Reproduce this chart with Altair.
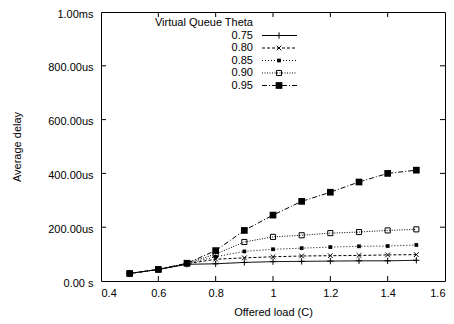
import altair as alt
import pandas as pd

loads = [0.5, 0.6, 0.7, 0.8, 0.9, 1.0, 1.1, 1.2, 1.3, 1.4, 1.5]
thetas = ["0.75", "0.80", "0.85", "0.90", "0.95"]
d075 = [28, 43, 62, 64, 69, 72, 73, 74, 75, 75, 77]
d080 = [28, 43, 64, 81, 86, 90, 93, 94, 95, 97, 98]
d085 = [28, 43, 65, 90, 110, 118, 122, 126, 129, 130, 134]
d090 = [28, 43, 66, 100, 145, 164, 170, 178, 182, 188, 192]
d095 = [28, 43, 66, 113, 188, 245, 296, 330, 368, 400, 412]
series = [d075, d080, d085, d090, d095]

x_ticks = [0.4, 0.6, 0.8, 1.0, 1.2, 1.4, 1.6]
y_ticks = [0, 200, 400, 600, 800, 1000]

FONT = "Liberation Sans"
W, H = 344, 269

styles = {
    "0.75": dict(dash=[1, 0], shape="M-1,0L1,0M0,-1L0,1", size=40, filled=False),
    "0.80": dict(dash=[3, 2], shape="M-1,-1L1,1M-1,1L1,-1", size=22, filled=False),
    "0.85": dict(dash=[1, 2], shape="square", size=14, filled=True),
    "0.90": dict(dash=[1, 1.5], shape="square", size=26, filled=False),
    "0.95": dict(dash=[5, 2, 1, 2], shape="square", size=45, filled=True),
}

xs = alt.Scale(domain=[0.4, 1.6], nice=False, zero=False)
ys = alt.Scale(domain=[0, 1000], nice=False, zero=False)

x_axis = alt.Axis(values=x_ticks, title="Offered load (C)", grid=False, ticks=False, tickSize=0,
                  labelPadding=6, labelExpr="format(datum.value, '~g')", domain=False,
                  titleY=31, titleBaseline="middle", titleFontWeight="normal")
y_axis = alt.Axis(values=y_ticks, title="Average delay", grid=False, ticks=False, tickSize=0,
                  labelPadding=8, labelOffset=2, domain=False,
                  labelExpr="datum.value == 0 ? '0.00 s' : datum.value == 1000 ? '1.00ms' : format(datum.value, '.2f') + 'us'",
                  titleX=-84, titleBaseline="middle", titleFontWeight="normal")

layers = []
for i, (th, vals) in enumerate(zip(thetas, series)):
    st = styles[th]
    df = pd.DataFrame({"load": loads, "delay": vals})
    base = alt.Chart(df)
    enc = dict(x=alt.X("load:Q", scale=xs, axis=x_axis),
               y=alt.Y("delay:Q", scale=ys, axis=y_axis))
    layers.append(base.mark_line(color="black", strokeWidth=1, strokeDash=st["dash"]).encode(**enc))
    pt = dict(shape=st["shape"], size=st["size"], filled=st["filled"], color="black", strokeWidth=1, opacity=1)
    layers.append(base.mark_point(**pt).encode(**enc))

# inward ticks on all four sides
xt = alt.Chart(pd.DataFrame({"load": x_ticks[1:-1]}))
yt = alt.Chart(pd.DataFrame({"delay": y_ticks[1:-1]}))
tick_style = dict(color="black", strokeWidth=1)
layers.append(xt.mark_rule(**tick_style).encode(x=alt.X("load:Q", scale=xs, axis=x_axis), y=alt.value(H), y2=alt.value(H - 5)))
layers.append(xt.mark_rule(**tick_style).encode(x=alt.X("load:Q", scale=xs, axis=x_axis), y=alt.value(0), y2=alt.value(5)))
layers.append(yt.mark_rule(**tick_style).encode(y=alt.Y("delay:Q", scale=ys, axis=y_axis), x=alt.value(0), x2=alt.value(5)))
layers.append(yt.mark_rule(**tick_style).encode(y=alt.Y("delay:Q", scale=ys, axis=y_axis), x=alt.value(W), x2=alt.value(W - 5)))

# legend
one = alt.Chart(pd.DataFrame({"t": ["Virtual Queue Theta"]}))
layers.append(one.mark_text(font=FONT, fontSize=11, align="right", baseline="middle", color="black").encode(
    text="t:N", x=alt.value(152), y=alt.value(10.5)))
row_y = [23.5, 36, 48.5, 61, 73.5]
for th, ry in zip(thetas, row_y):
    st = styles[th]
    lc = alt.Chart(pd.DataFrame({"t": [th]}))
    layers.append(lc.mark_text(font=FONT, fontSize=11, align="right", baseline="middle", color="black").encode(
        text="t:N", x=alt.value(152), y=alt.value(ry)))
    layers.append(lc.mark_rule(color="black", strokeWidth=1, strokeDash=st["dash"]).encode(
        x=alt.value(161), x2=alt.value(196), y=alt.value(ry)))
    layers.append(lc.mark_point(shape=st["shape"], size=st["size"], filled=st["filled"], color="black",
                                strokeWidth=1, opacity=1).encode(x=alt.value(178), y=alt.value(ry)))

chart = alt.layer(*layers).properties(
    width=W, height=H,
    autosize=alt.AutoSizeParams(type="none"),
    padding={"left": 93, "top": 4, "right": 1, "bottom": 38},
).configure_view(stroke="black", strokeWidth=1).configure_axis(
    labelFont=FONT, titleFont=FONT, labelFontSize=11, titleFontSize=11,
    labelColor="black", titleColor="black"
)

chart.save("out.html", embed_options={"renderer": "svg", "actions": False})
